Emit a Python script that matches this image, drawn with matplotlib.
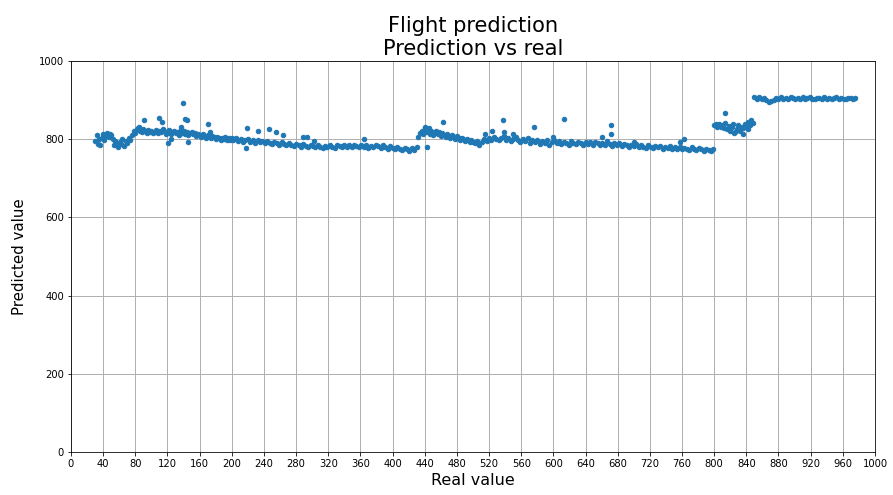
import numpy as np
import matplotlib
matplotlib.use("Agg")
import matplotlib.pyplot as plt

# Real value vs predicted value
seg_a_x = [30, 32, 33, 35, 36, 38, 40, 41, 43, 45, 47, 48, 50, 52, 54, 55, 57, 59, 61, 62, 64, 66, 68, 70, 72, 74]
seg_a_y = [795, 810, 788, 800, 785, 803, 812, 797, 808, 815, 806, 814, 810, 800, 785, 796, 790, 780, 793, 788, 800, 783, 795, 790, 803, 798]

seg_b_x = [76, 78, 80, 82, 84, 86, 88, 90, 92, 94, 96, 98, 100, 102, 104, 106, 108, 110, 112, 114, 116, 118, 120, 122, 124, 126, 128, 130, 132, 134]
seg_b_y = [810, 820, 815, 826, 830, 822, 818, 825, 820, 816, 823, 818, 821, 815, 819, 824, 817, 822, 818, 826, 820, 814, 818, 823, 812, 819, 821, 815, 818, 810]

seg_c_x = [136, 138, 140, 142, 144, 146, 148, 150, 152, 154, 156, 158, 160, 162, 164, 166, 168, 170, 172, 174, 176, 178, 180, 182, 184, 186, 188, 190, 192, 194, 196, 198, 200]
seg_c_y = [820, 815, 822, 812, 818, 810, 816, 819, 812, 815, 808, 813, 810, 806, 812, 808, 804, 810, 806, 802, 808, 805, 800, 806, 803, 798, 804, 800, 806, 797, 802, 799, 804]

seg_d_x = [202, 205, 208, 211, 214, 217, 220, 223, 226, 229, 232, 235, 238, 241, 244, 247, 250, 253, 256, 259, 262, 265, 268, 271, 274, 277, 280, 283, 286, 289, 292, 295, 298]
seg_d_y = [798, 803, 795, 800, 792, 798, 801, 794, 797, 790, 799, 793, 796, 789, 795, 791, 787, 793, 790, 786, 792, 788, 784, 790, 786, 782, 788, 785, 781, 787, 783, 780, 785]

seg_e_x = [301, 304, 307, 310, 313, 316, 319, 322, 325, 328, 331, 334, 337, 340, 343, 346, 349, 352, 355, 358, 361, 364, 367, 370, 373, 376,
           379, 382, 385, 388, 391, 394, 397, 400, 403, 406, 409, 412, 415, 418, 421, 424, 427, 430]
seg_e_y = [783, 779, 784, 781, 778, 783, 780, 785, 781, 778, 784, 782, 779, 785, 781, 784, 780, 786, 782, 779, 784, 781, 785, 778, 783, 780,
           786, 782, 778, 784, 780, 776, 782, 778, 774, 780, 776, 772, 778, 774, 770, 777, 773, 780]

seg_f_x = [432, 434, 436, 438, 440, 442, 444, 446, 448, 450, 452, 454, 456, 458, 460, 462, 464, 466, 468, 470, 472, 474, 476, 478, 480,
           482, 484, 486, 488, 490, 492, 494, 496, 498, 500]
seg_f_y = [805, 815, 822, 812, 828, 818, 825, 814, 820, 810, 816, 822, 812, 818, 808, 815, 810, 806, 813, 808, 804, 810, 805, 800, 807,
           803, 798, 804, 800, 795, 801, 797, 792, 798, 794]

seg_g_x = [502, 505, 508, 511, 514, 517, 520, 523, 526, 529, 532, 535, 538, 541, 544, 547, 550, 553, 556, 559, 562, 565, 568, 571, 574,
           577, 580, 583, 586, 589, 592, 595, 598, 601, 604, 607, 610, 613, 616, 619, 622, 625, 628, 631, 634, 637, 640]
seg_g_y = [790, 796, 786, 793, 800, 795, 803, 798, 806, 800, 797, 804, 808, 799, 803, 796, 801, 806, 798, 793, 800, 795, 802, 790, 797,
           793, 799, 788, 795, 791, 797, 786, 793, 799, 790, 795, 787, 793, 790, 785, 796, 791, 787, 794, 789, 785, 792]

seg_h_x = [643, 646, 649, 652, 655, 658, 661, 664, 667, 670, 673, 676, 679, 682, 685, 688, 691, 694, 697, 700, 703, 706, 709, 712, 715,
           718, 721, 724, 727, 730, 733, 736, 739, 742, 745, 748, 751, 754, 757, 760, 763, 766, 769, 772, 775, 778, 781, 784, 787, 790,
           793, 796, 798]
seg_h_y = [788, 794, 786, 792, 789, 784, 790, 786, 795, 788, 783, 790, 785, 789, 782, 787, 784, 780, 786, 782, 788, 779, 784, 781, 778,
           785, 780, 777, 783, 779, 782, 776, 780, 777, 783, 775, 779, 776, 781, 774, 778, 776, 773, 779, 775, 772, 777, 774, 771, 776,
           773, 770, 774]

seg_i_x = [800, 802, 804, 806, 808, 810, 812, 814, 816, 818, 820, 822, 824, 826, 828, 830, 832, 834, 836, 838, 840, 842, 844, 846, 848]
seg_i_y = [835, 838, 830, 840, 832, 836, 828, 842, 825, 834, 820, 830, 838, 818, 826, 835, 822, 832, 828, 840, 830, 845, 836, 848, 842]

seg_j_x = [850, 853, 856, 859, 862, 865, 868, 871, 874, 877, 880, 883, 886, 889, 892, 895, 898, 901, 904, 907, 910, 913, 916, 919, 922,
           925, 928, 931, 934, 937, 940, 943, 946, 949, 952, 955, 958, 961, 964, 967, 970, 973, 975]
seg_j_y = [908, 904, 907, 902, 905, 900, 896, 898, 901, 906, 903, 908, 904, 906, 903, 907, 905, 902, 906, 904, 908, 903, 905, 907, 904,
           902, 906, 905, 903, 907, 904, 906, 902, 905, 907, 903, 906, 904, 902, 906, 905, 903, 906]

# scattered points away from the main band
outlier_x = [83, 91, 109, 113, 121, 125, 137, 139, 142, 144, 146, 170, 173, 218, 219, 233, 246, 255, 264, 289, 294, 302,
             364, 440, 443, 445, 463, 515, 524, 537, 539, 550, 576, 600, 613, 660, 672, 672, 700, 757, 762,
             813, 825, 836, 842]
outlier_y = [829, 849, 854, 844, 790, 800, 831, 892, 852, 848, 793, 839, 818, 777, 829, 821, 826, 818, 811, 806, 806, 795,
             800, 830, 780, 828, 844, 813, 821, 849, 818, 812, 831, 805, 852, 805, 836, 813, 792, 793, 800,
             867, 815, 814, 825]

real = np.concatenate([seg_a_x, seg_b_x, seg_c_x, seg_d_x, seg_e_x, seg_f_x, seg_g_x, seg_h_x, seg_i_x, seg_j_x, outlier_x])
pred = np.concatenate([seg_a_y, seg_b_y, seg_c_y, seg_d_y, seg_e_y, seg_f_y, seg_g_y, seg_h_y, seg_i_y, seg_j_y, outlier_y])

fig = plt.figure(figsize=(893 / 72, 495 / 72), dpi=72)
ax = fig.add_axes([0.0795, 0.0869, 0.9003, 0.7899])

ax.scatter(real, pred, s=20, color="#1f77b4", zorder=3)

ax.set_xlim(0, 1000)
ax.set_ylim(0, 1000)
ax.set_xticks(np.arange(0, 1001, 40))
ax.set_yticks(np.arange(0, 1001, 200))
ax.tick_params(labelsize=10)
ax.grid(True, color="#b0b0b0", linewidth=1)
ax.set_axisbelow(True)

ax.set_xlabel("Real value", fontsize=16)
ax.set_ylabel("Predicted value", fontsize=15, labelpad=12)
ax.set_title("Flight prediction\nPrediction vs real", fontsize=21)

fig.savefig("out.png", dpi=72)
